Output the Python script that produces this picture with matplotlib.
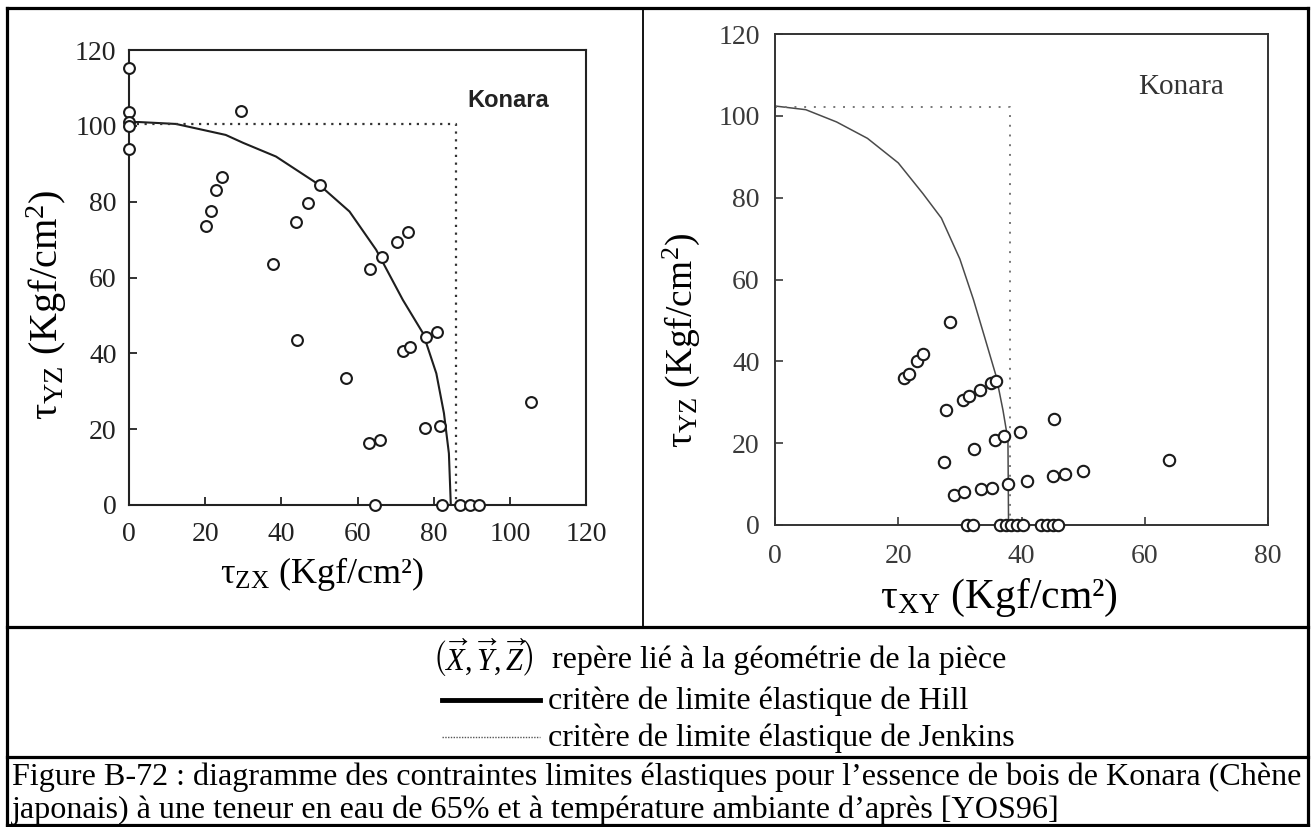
import matplotlib
matplotlib.use("Agg")
import matplotlib.pyplot as plt
from matplotlib.lines import Line2D

# --- données ---
# diagramme gauche : tau_ZX / tau_YZ
zx_pts = [0, 0, 0, 0, 0, 29.3, 20.2, 21.6, 22.9, 24.3, 37.7, 43.8, 44.0, 47.1, 50.1,
          57.0, 63.4, 66.4, 70.3, 73.2, 72.0, 73.9, 78.0, 80.8, 63.1, 65.9, 77.8, 81.7,
          105.5, 64.7, 82.3, 87.0, 89.5, 92.0]
yz_pts_l = [115.3, 103.7, 101.0, 100.0, 94.0, 103.8, 73.7, 77.6, 83.2, 86.4, 63.5, 74.6,
            43.5, 79.7, 84.4, 33.5, 62.3, 65.5, 69.3, 71.9, 40.7, 41.7, 44.4, 45.7, 16.4,
            17.1, 20.4, 20.9, 27.1, 0, 0, 0, 0, 0]
hill_zx = [0, 2.6, 12.3, 20, 25.4, 30, 38.6, 50, 57.9, 64.9, 71.9, 77.2, 80.7, 82.7, 84, 84.5]
hill_yz_l = [101, 101, 100.5, 98.8, 97.6, 95.5, 91.9, 84.4, 77.4, 67.3, 54.1, 45.3, 34.7,
             24.2, 13.6, 0]
jenk_zx = [0, 85.8, 85.8]
jenk_yz_l = [100.5, 100.5, 0]

# diagramme droit : tau_XY / tau_YZ
xy_pts = [28.4, 21.0, 21.7, 23.1, 24.0, 27.8, 30.5, 31.5, 33.3, 35.1, 35.9, 32.3, 27.4,
          35.7, 37.2, 39.8, 45.3, 64.0, 29.0, 30.6, 33.5, 35.2, 37.8, 40.9, 45.1, 47.0,
          50.0, 31.2, 32.1, 36.5, 37.5, 38.3, 39.2, 40.3, 43.1, 44.1, 45.1, 46.0]
yz_pts_r = [49.7, 35.9, 36.8, 40.1, 41.7, 28.1, 30.5, 31.5, 33.1, 34.6, 35.2, 18.5, 15.4,
            20.7, 21.8, 22.7, 26.0, 15.8, 7.4, 8.0, 8.8, 9.1, 10.0, 10.7, 11.9, 12.4,
            13.1, 0, 0, 0, 0, 0, 0, 0, 0, 0, 0, 0]
hill_xy = [0, 5, 10, 15, 20, 24, 27, 30, 32.2, 34, 35.9, 37, 37.8, 37.9]
hill_yz_r = [102.4, 101.5, 98.5, 94.5, 88.5, 81, 75, 65, 55.1, 46, 36.3, 28, 20.8, 0]
jenk_xy = [0, 38.2, 38.2]
jenk_yz_r = [102.2, 102.2, 0]

ticks_l = [0, 20, 40, 60, 80, 100, 120]
ticks_rx = [0, 20, 40, 60, 80]
ticks_ry = [0, 20, 40, 60, 80, 100, 120]

legend_txt = ["repère lié à la géométrie de la pièce",
              "critère de limite élastique de Hill",
              "critère de limite élastique de Jenkins"]
caption = ["Figure B-72 : diagramme des contraintes limites élastiques pour l’essence "
           "de bois de Konara (Chène",
           "japonais) à une teneur en eau de 65% et à température ambiante d’après [YOS96]"]

plt.rcParams['font.family'] = ['Liberation Serif', 'DejaVu Serif']
plt.rcParams['mathtext.fontset'] = 'custom'
plt.rcParams['mathtext.rm'] = 'Liberation Serif'
plt.rcParams['mathtext.it'] = 'Liberation Serif:italic'

W, H = 1311, 827
fig = plt.figure(figsize=(W / 100, H / 100), dpi=100)
fig.patch.set_facecolor('white')


def fx(px):
    return px / W


def fy(py):
    return 1 - py / H


def box(x0, y0, x1, y1):
    return [fx(x0), fy(y1), fx(x1) - fx(x0), fy(y0) - fy(y1)]


# cadre du tableau
def hline(y, x0, x1, lw):
    fig.add_artist(Line2D([fx(x0), fx(x1)], [fy(y), fy(y)], color='black', lw=lw))


def vline(x, y0, y1, lw):
    fig.add_artist(Line2D([fx(x), fx(x)], [fy(y0), fy(y1)], color='black', lw=lw))


hline(8, 7, 1308, 2.3)
hline(825, 7, 1308, 2.3)
hline(627, 7, 1308, 2.3)
hline(757, 7, 1308, 2.3)
vline(7, 8, 825, 2.3)
vline(1308, 8, 825, 2.3)
vline(643, 8, 627, 1.3)

# ---- diagramme gauche ----
ax1 = fig.add_axes(box(129, 50, 586, 505))
ax1.plot(hill_zx, hill_yz_l, color='#1e1e1e', lw=1.5, zorder=2)
ax1.plot(jenk_zx, jenk_yz_l, color='#333333', lw=1.6, ls=(0, (1, 2.5)), zorder=2)
ax1.plot(zx_pts, yz_pts_l, 'o', mfc='white', mec='#1a1a1a', ms=7.8, mew=1.5,
         clip_on=False, zorder=4)
ax1.set_xlim(0, 120)
ax1.set_ylim(0, 120)
ax1.set_xticks(ticks_l)
ax1.set_yticks(ticks_l)
ax1.tick_params(direction='in', length=6, width=1.3, labelsize=20, colors='#222222',
                top=False, right=False)
ax1.tick_params(axis='x', pad=12)
ax1.tick_params(axis='y', pad=9)
for s in ax1.spines.values():
    s.set_linewidth(1.5)
    s.set_color('#222222')
ax1.text(99.7, 106.6, 'Konara', ha='center', va='center', fontsize=17,
         fontweight='bold', family=['Liberation Sans', 'DejaVu Sans'], color='#222222')

# ---- diagramme droit ----
ax2 = fig.add_axes(box(775, 34, 1268, 525))
ax2.plot(hill_xy, hill_yz_r, color='#4a4a4a', lw=1.1, zorder=2)
ax2.plot(jenk_xy, jenk_yz_r, color='#777777', lw=1.4, ls=(0, (1, 4)), zorder=2)
ax2.plot(xy_pts, yz_pts_r, 'o', mfc='white', mec='#1a1a1a', ms=8.2, mew=1.5,
         clip_on=False, zorder=4)
ax2.set_xlim(0, 80)
ax2.set_ylim(0, 120)
ax2.set_xticks(ticks_rx)
ax2.set_yticks(ticks_ry)
ax2.tick_params(direction='in', length=6, width=1.2, labelsize=20, colors='#3a3a3a',
                top=False, right=False)
ax2.tick_params(axis='x', pad=14)
ax2.tick_params(axis='y', pad=11)
for s in ax2.spines.values():
    s.set_linewidth(1.4)
    s.set_color('#333333')
ax2.text(65.9, 107, 'Konara', ha='center', va='center', fontsize=21, color='#333333')

# titres des axes
fig.text(fx(322), fy(574), 'τ$_{\\mathrm{ZX}}$ (Kgf/cm²)', fontsize=26, ha='center', va='center')
fig.text(fx(47), fy(305), 'τ$_{\\mathrm{YZ}}$ (Kgf/cm$^{2}$)', fontsize=29, rotation=90,
         ha='center', va='center')
fig.text(fx(999), fy(598), 'τ$_{\\mathrm{XY}}$ (Kgf/cm²)', fontsize=30, ha='center', va='center')
fig.text(fx(681), fy(341), 'τ$_{\\mathrm{YZ}}$ (Kgf/cm$^{2}$)', fontsize=27, rotation=90,
         ha='center', va='center')

# légende
fig.text(fx(432), fy(658),
         r'$\left(\overrightarrow{X},\overrightarrow{Y},\overrightarrow{Z}\right)$',
         fontsize=22, ha='left', va='center')
fig.text(fx(552), fy(660), legend_txt[0], fontsize=23, ha='left', va='center')
fig.add_artist(Line2D([fx(442), fx(540)], [fy(700), fy(700)], color='black', lw=3.5))
fig.text(fx(548), fy(701), legend_txt[1], fontsize=23, ha='left', va='center')
fig.add_artist(Line2D([fx(442), fx(540)], [fy(737), fy(737)], color='#555555', lw=1,
                      ls=(0, (1, 1))))
fig.text(fx(548), fy(738), legend_txt[2], fontsize=23, ha='left', va='center')

# légende de la figure
fig.text(fx(12), fy(777), caption[0], fontsize=23.1, ha='left', va='center')
fig.text(fx(12), fy(810), caption[1], fontsize=23.1, ha='left', va='center')

fig.savefig('out.png', dpi=100, facecolor='white')
